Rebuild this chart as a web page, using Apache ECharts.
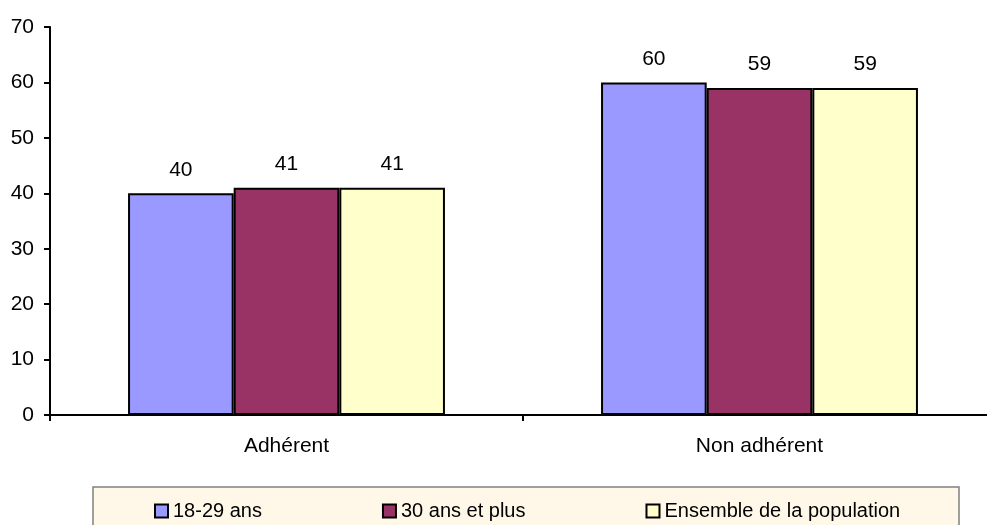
<!DOCTYPE html>
<head>
    <meta charset="utf-8">
    <title>Adhérent / Non adhérent</title>
</head>
<body style="margin:0">
   <div id="main" style="width:987px;height:525px"></div>
     <script src="https://cdn.jsdelivr.net/npm/echarts@6/dist/echarts.min.js"></script>
      <script type="text/javascript">

    var categories = ['Adhérent', 'Non adhérent'];
    var seriesNames = ['18-29 ans', '30 ans et plus', 'Ensemble de la population'];
    var young = [40, 60];
    var older = [41, 59];
    var everyone = [41, 59];
    var yTicks = [0, 10, 20, 30, 40, 50, 60, 70];

    var colors = ['#9999FF', '#993366', '#FFFFCC'];
    var font = 'Liberation Sans, Arial, sans-serif';

    var myChart = echarts.init(document.getElementById('main'));

    function bar(name, values, color) {
        return {
            name: name,
            type: 'bar',
            data: values,
            barGap: '0%',
            barCategoryGap: '33%',
            itemStyle: {color: color, borderColor: '#000', borderWidth: 2},
            label: {
                show: true,
                position: 'top',
                distance: 13,
                color: '#000',
                fontSize: 21,
                fontFamily: font
            }
        };
    }

    var option = {
        animation: false,
        backgroundColor: '#fff',
        textStyle: {fontFamily: font},
        // the plot runs a little past the right edge of the picture
        grid: {left: 50, width: 946, top: 27, bottom: 110, outerBoundsMode: 'none'},
        graphic: [{
            type: 'rect',
            shape: {x: 93, y: 487, width: 866, height: 60},
            style: {fill: '#FFF8E8', stroke: '#808080', lineWidth: 1.5},
            z: 0
        }],
        legend: {
            data: seriesNames,
            left: 149,
            top: 496,
            itemGap: 120,
            itemWidth: 13,
            itemHeight: 13,
            icon: 'rect',
            itemStyle: {borderColor: '#000', borderWidth: 2},
            textStyle: {color: '#000', fontSize: 20, fontFamily: font},
            z: 5
        },
        xAxis: {
            type: 'category',
            data: categories,
            axisLine: {lineStyle: {color: '#000', width: 2}},
            axisTick: {show: true, length: 6, lineStyle: {color: '#000', width: 2}},
            axisLabel: {color: '#000', fontSize: 21, fontFamily: font, margin: 21}
        },
        yAxis: {
            type: 'value',
            min: yTicks[0],
            max: yTicks[yTicks.length - 1],
            interval: 10,
            splitLine: {show: false},
            axisLine: {show: true, lineStyle: {color: '#000', width: 2}},
            axisTick: {show: true, length: 6, lineStyle: {color: '#000', width: 2}},
            axisLabel: {color: '#000', fontSize: 21, fontFamily: font, margin: 16}
        },
        series: [
            bar(seriesNames[0], young, colors[0]),
            bar(seriesNames[1], older, colors[1]),
            bar(seriesNames[2], everyone, colors[2])
        ]
    };
    myChart.setOption(option);

</script>
</body>
